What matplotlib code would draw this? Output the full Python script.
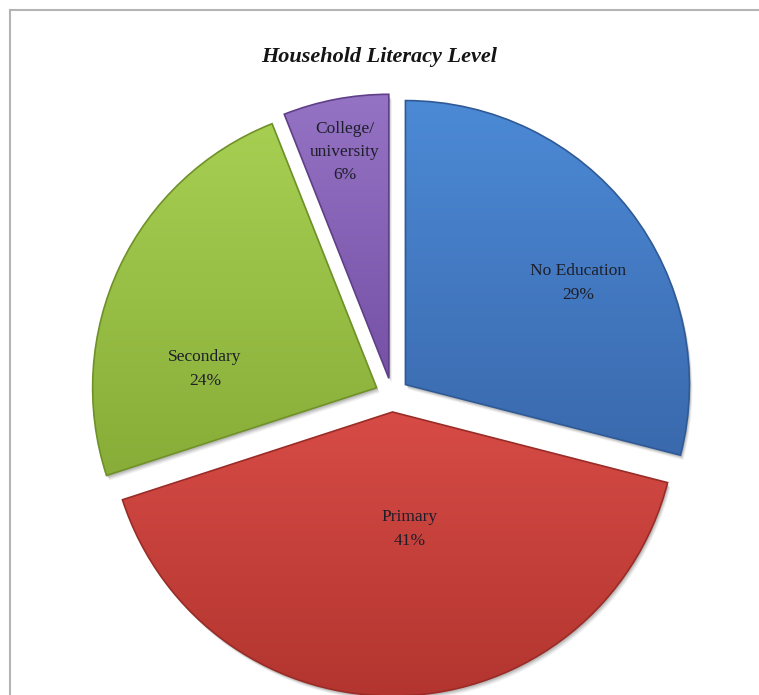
import numpy as np
import matplotlib
matplotlib.use("Agg")
import matplotlib.pyplot as plt
from matplotlib.colors import LinearSegmentedColormap
from matplotlib.patches import Wedge

# data
categories = ["No Education", "Primary", "Secondary", "College/\nuniversity"]
shares = [29, 41, 24, 6]
# (top, bottom) colours of the vertical gradient in each slice
grad_top = ["#4c8ad6", "#d74b46", "#a6cf52", "#9573c4"]
grad_bot = ["#3a69ad", "#b3352f", "#88ad38", "#7651a6"]
edge_cols = ["#2f5a96", "#9a2c27", "#6f9128", "#5f4088"]

# layout (pixels, y measured from the top of the image)
W, H = 759, 695
center_px = (392, 395)
radius_px = 284
explode_px = 17  # pie() offsets wedges by this many data units (= px here)
label_px = [(578, 283), (410, 529), (205, 369), (345, 152)]

plt.rcParams["font.family"] = ["Liberation Serif", "DejaVu Serif"]

fig = plt.figure(figsize=(W / 100, H / 100), dpi=100)
ax = fig.add_axes([0, 0, 1, 1])

cx, cy = center_px[0], H - center_px[1]
wedges, _ = ax.pie(shares, startangle=90, counterclock=False,
                   center=(cx, cy), radius=radius_px,
                   explode=[explode_px] * len(shares), frame=True,
                   wedgeprops=dict(linewidth=1.2))
ax.set_aspect("auto")
ax.axis("off")

grad = np.linspace(0, 1, 256).reshape(-1, 1)
for w, top, bot, ec in zip(wedges, grad_top, grad_bot, edge_cols):
    # soft drop shadow
    for k, a in [(5, 0.05), (4, 0.06), (3, 0.08), (2, 0.1)]:
        sh = Wedge((w.center[0] + k * 0.6, w.center[1] - k), w.r,
                   w.theta1, w.theta2, facecolor="black", edgecolor="none",
                   alpha=a, zorder=1)
        ax.add_patch(sh)
    ext = w.get_path().get_extents()
    cmap = LinearSegmentedColormap.from_list("g", [bot, top])
    im = ax.imshow(grad, extent=(ext.x0, ext.x1, ext.y0, ext.y1),
                   origin="lower", cmap=cmap, aspect="auto", zorder=2,
                   interpolation="bilinear")
    im.set_clip_path(w)
    w.set_facecolor("none")
    w.set_edgecolor(ec)
    w.set_zorder(3)

ax.set_xlim(0, W)
ax.set_ylim(0, H)

for name, pct, (lx, ly) in zip(categories, shares, label_px):
    ax.text(lx, H - ly, f"{name}\n{pct}%", ha="center", va="center",
            fontsize=12.5, color="#1e1e2a", linespacing=1.6, zorder=4)

ax.text(W / 2, H - 57, "Household Literacy Level", ha="center", va="center",
        fontsize=16, fontweight="bold", fontstyle="italic", color="#151515")

# outer frame (only top and left edges are visible in the crop)
ax.plot([10, 10], [0, H - 10], color="#b4b4b4", lw=1.5, zorder=5)
ax.plot([10, W], [H - 10, H - 10], color="#b4b4b4", lw=1.5, zorder=5)

fig.savefig("out.png", dpi=100)
